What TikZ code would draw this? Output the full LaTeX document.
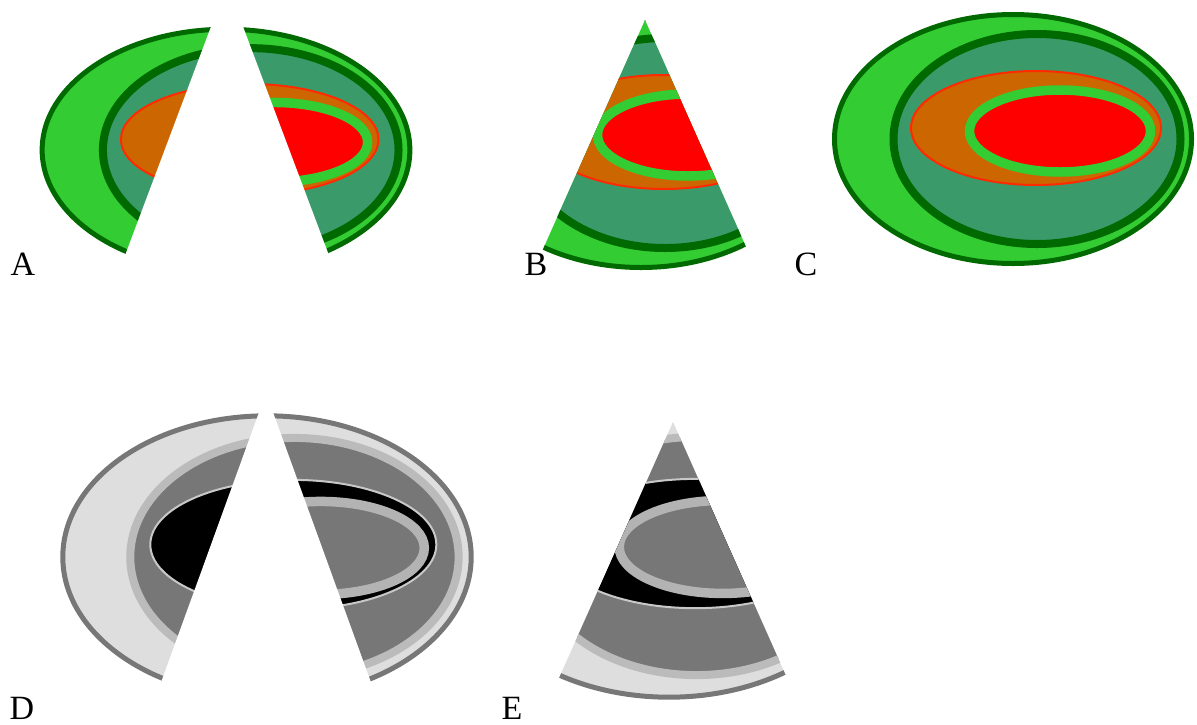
\documentclass[tikz,border=0pt]{standalone}
\usepackage{fontspec}
\setmainfont{Liberation Serif}
\usepackage{xcolor}
\usepackage{tikz}

\definecolor{leafgreen}{HTML}{33CC33}
\definecolor{darkgreen}{HTML}{006A00}
\definecolor{seagreen}{HTML}{3A9A6A}
\definecolor{rust}{HTML}{CC6600}
\definecolor{redline}{HTML}{FF2A00}
\definecolor{pureRed}{HTML}{FF0000}
\definecolor{paleGrey}{HTML}{DEDEDE}
\definecolor{lightGrey}{HTML}{BBBBBB}
\definecolor{ringGrey}{HTML}{B3B3B3}
\definecolor{midGrey}{HTML}{777777}
\definecolor{lineGrey}{HTML}{C8C8C8}

% colour sets for the two versions
\newcommand{\greenset}{%
    \colorlet{shellfill}{leafgreen}\colorlet{shellline}{darkgreen}%
    \colorlet{bandfill}{seagreen}\colorlet{bandline}{darkgreen}%
    \colorlet{yolkfill}{rust}\colorlet{yolkline}{redline}%
    \colorlet{ringfill}{pureRed}\colorlet{ringline}{leafgreen}}
\newcommand{\greyset}{%
    \colorlet{shellfill}{paleGrey}\colorlet{shellline}{midGrey}%
    \colorlet{bandfill}{midGrey}\colorlet{bandline}{lightGrey}%
    \colorlet{yolkfill}{black}\colorlet{yolkline}{lineGrey}%
    \colorlet{ringfill}{midGrey}\colorlet{ringline}{ringGrey}}

% the nested ellipses, around the local origin
\newcommand{\eggs}{%
    \draw[shell] (0,0) ellipse [x radius=178.5, y radius=124.5];
    \draw[band] (24,0) ellipse [x radius=143.5, y radius=105];
    \draw[yolk] (23,-11) ellipse [x radius=125, y radius=57];
    \draw[ring] (47,-8) ellipse [x radius=90.5, y radius=41];
}

\begin{document}
\begin{tikzpicture}[
        x=0.5pt, y=-0.5pt,
        shell/.style={
            fill=shellfill,
            draw=shellline,
            line width=2.5pt
        },
        band/.style={
            fill=bandfill,
            draw=bandline,
            line width=4pt
        },
        yolk/.style={
            fill=yolkfill,
            draw=yolkline,
            line width=1pt
        },
        ring/.style={
            fill=ringfill,
            draw=ringline,
            line width=4.75pt
        },
        panel/.style={
            inner sep=0pt,
            font=\fontsize{17}{20}\selectfont
        }
    ]
    \useasboundingbox (0,0) rectangle (1197,724);

    % A: wedge cut away
    \begin{scope}[shift={(226,150)}, xscale=1.03, yscale=0.97]
        \greenset
        \eggs
    \end{scope}
    \fill[white] (227,-16) -- (112,290) -- (342,290) -- cycle;

    % B: the wedge
    \begin{scope}
        \greenset
        \clip (645,20) -- ++(114:252) arc[start angle=114, end angle=66, radius=252] -- cycle;
        \begin{scope}[shift={(641,143)}]
            \eggs
        \end{scope}
    \end{scope}

    % C: whole
    \begin{scope}[shift={(1013,139)}]
        \greenset
        \eggs
    \end{scope}

    % D
    \begin{scope}[shift={(267,557)}, xscale=1.144, yscale=1.134]
        \greyset
        \eggs
    \end{scope}
    \fill[white] (266,393) -- (151,710) -- (381,710) -- cycle;

    % E
    \begin{scope}
        \greyset
        \clip (673,422) -- ++(114:281) arc[start angle=114, end angle=66, radius=281] -- cycle;
        \begin{scope}[shift={(669,556)}, xscale=1.144, yscale=1.134]
            \eggs
        \end{scope}
    \end{scope}

    \node[panel] (labA) at (23,264) {A};
    \node[panel] (labB) at (536,264) {B};
    \node[panel] (labC) at (806,264) {C};
    \node[panel] (labD) at (22,708) {D};
    \node[panel] (labE) at (512,708) {E};

\end{tikzpicture}
\end{document}
